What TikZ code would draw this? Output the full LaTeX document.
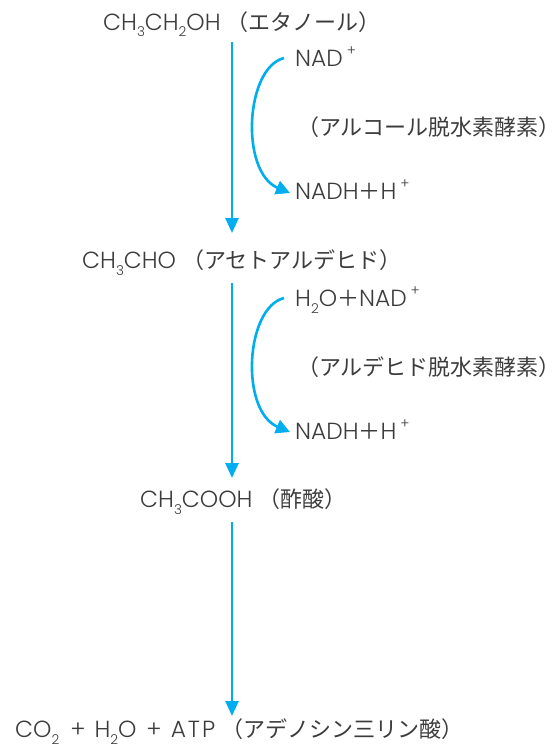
\documentclass[tikz,border=0pt]{standalone}
\usepackage{fontspec}
\setmainfont{Noto Sans CJK JP}
\newfontfamily\lat{Poppins}[UprightFont=* Light,Scale=1.06]
\usetikzlibrary{arrows.meta}
\definecolor{txt}{HTML}{3C3C3C}
\definecolor{arr}{HTML}{00AEEF}
\newcommand{\sbx}[1]{\raisebox{-0.3em}{\scalebox{0.58}{#1}}}
\newcommand{\spx}[1]{\raisebox{0.45em}{\scalebox{0.6}{#1}}}
\newcommand{\gp}{\hspace{6pt}}
\begin{document}
\begin{tikzpicture}[x=1pt,y=-1pt,
  lbl/.style={anchor=base west,inner sep=0pt,text=txt,font=\fontsize{22}{24}\selectfont},
  main/.style={draw=arr,line width=2.6pt,-{Triangle[width=13pt,length=15pt]}},
  curv/.style={draw=arr,line width=2.6pt,-{Triangle[width=14pt,length=14pt]}}]
\useasboundingbox (0,0) rectangle (556,753);
\node[lbl] (etoh) at (103,30) {{\lat CH\sbx{3}CH\sbx{2}OH}\gp（エタノール）};
\node[lbl] (nad1) at (295,66) {{\lat NAD\,\spx{+}}};
\node[lbl] (enz1) at (297,135) {（アルコール脱水素酵素）};
\node[lbl] (nadh1) at (295,199) {{\lat NADH}＋{\lat H\,\spx{+}}};
\node[lbl] (acet) at (82,268) {{\lat CH\sbx{3}CHO}\gp（アセトアルデヒド）};
\node[lbl] (nad2) at (295,306) {{\lat H\sbx{2}O}＋{\lat NAD\,\spx{+}}};
\node[lbl] (enz2) at (297,375) {（アルデヒド脱水素酵素）};
\node[lbl] (nadh2) at (295,439) {{\lat NADH}＋{\lat H\,\spx{+}}};
\node[lbl] (acid) at (140,507) {{\lat CH\sbx{3}COOH}\gp（酢酸）};
\node[lbl] (prod) at (15,737) {{\lat CO\sbx{2}\hspace{11pt}+\hspace{9pt}H\sbx{2}O\hspace{10pt}+\hspace{9pt}A\hspace{2pt}T\hspace{2pt}P}\gp（アデノシン三リン酸）};
\coordinate (a1s) at (232,42);
\coordinate (a1e) at (232,233);
\coordinate (a2s) at (232,283);
\coordinate (a2e) at (232,478);
\coordinate (a3s) at (232,522);
\coordinate (a3e) at (232,716);
\draw[main] (a1s) -- (a1e);
\draw[main] (a2s) -- (a2e);
\draw[main] (a3s) -- (a3e);
\coordinate (c1s) at (284,58);
\coordinate (c1e) at (290,193);
\coordinate (c2s) at (284,298);
\coordinate (c2e) at (290,432);
\draw[curv] (c1s) .. controls (245,68) and (240,172) .. (c1e);
\draw[curv] (c2s) .. controls (245,308) and (240,411) .. (c2e);
\end{tikzpicture}
\end{document}
